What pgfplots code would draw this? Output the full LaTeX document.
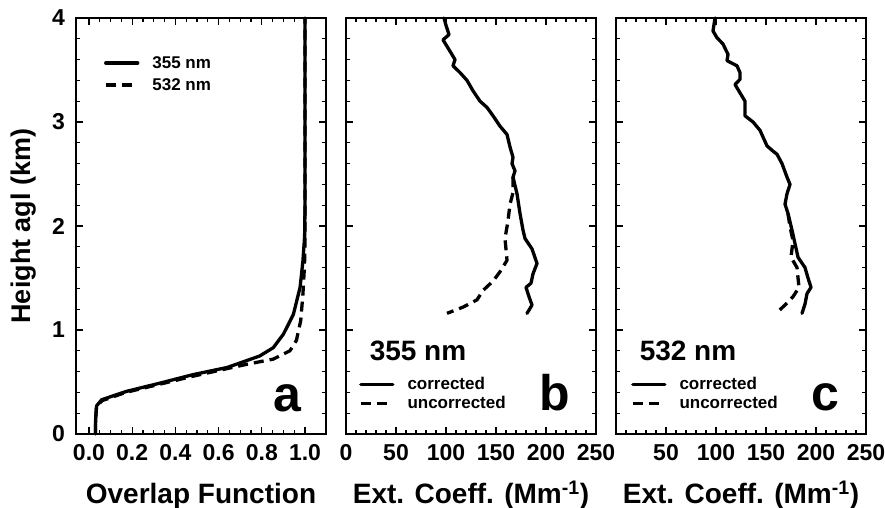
\documentclass[border=0pt]{standalone}
\usepackage{fontspec}
\setmainfont{Liberation Sans}
\usepackage{pgfplots}
\pgfplotsset{compat=1.18}
\begin{document}
\begin{tikzpicture}
\useasboundingbox (0pt,0pt) rectangle (885pt,508pt);
\pgfplotsset{
 panel/.style={
  scale only axis, width=250pt, height=416pt, anchor=south west,
  ymin=0, ymax=4, ytick={0,1,2,3,4}, minor y tick num=4,
  tick align=inside, major tick length=7pt, minor tick length=4pt,
  axis line style={line width=1.6pt},
  every tick/.style={line width=1.1pt, black},
  tick label style={font=\fontsize{23}{23}\selectfont\bfseries},
  /pgf/number format/assume math mode=true,
  xticklabel style={anchor=base, yshift=-26pt, inner sep=0pt},
  yticklabel style={anchor=east, xshift=-11pt, inner sep=0pt},
  label style={font=\fontsize{28}{28}\selectfont\bfseries},
  xlabel style={at={(axis description cs:0.5,-0.166)}, anchor=base},
  legend image code/.code={\draw[##1, line width=3.3pt] (0pt,0pt) -- (32pt,0pt);},
  legend cell align=left,
  clip=false,
 },
 curve/.style={black, line width=3.3pt, line join=round, line cap=round},
 dcurve/.style={black, line width=3.3pt, line join=round, dash pattern=on 10pt off 6pt},
 leg/.style={draw=none, fill=none, inner sep=0pt, column sep=12pt,
   font=\fontsize{17}{17}\selectfont\bfseries,
   nodes={inner sep=1pt, text height=12pt, text depth=1pt}},
}
% ---------- panel a
\begin{axis}[panel, at={(76pt,74pt)},
  xmin=-0.06, xmax=1.097,
  xtick={0,0.2,0.4,0.6,0.8,1}, minor x tick num=3,
  xticklabel style={/pgf/number format/.cd, fixed, fixed zerofill, precision=1},
  xlabel={Overlap Function},
  ylabel={Height agl (km)},
  ylabel style={at={(axis description cs:-0.21,0.5)}, anchor=center, font=\fontsize{27}{27}\selectfont\bfseries},
  legend style={leg, at={(axis cs:0.069,3.64)}, anchor=north west, row sep=7pt},
]
\addplot[curve] coordinates {(0.03,0) (0.031,0.15) (0.035,0.27) (0.059,0.33) (0.174,0.41) (0.33,0.49) (0.48,0.57) (0.64,0.64) (0.79,0.75) (0.853,0.83) (0.90,0.96) (0.946,1.15) (0.977,1.41) (0.99,1.66) (0.998,1.9) (1.0,2.2) (1.0,4.0)};
\addlegendentry{355 nm}
\addplot[dcurve] coordinates {(0.03,0) (0.031,0.15) (0.035,0.26) (0.06,0.32) (0.17,0.40) (0.33,0.48) (0.48,0.555) (0.62,0.62) (0.73,0.67) (0.853,0.72) (0.93,0.80) (0.96,0.90) (0.98,1.09) (0.99,1.34) (0.997,1.6) (1.0,1.8) (1.0,4.0)};
\addlegendentry{532 nm}
\node[anchor=base, font=\fontsize{50}{50}\selectfont\bfseries, inner sep=0pt] at (axis cs:0.917,0.22) {a};
\end{axis}
% ---------- panel b
\begin{axis}[panel, at={(346pt,74pt)},
  xmin=0, xmax=250,
  xtick={0,50,100,150,200,250}, minor x tick num=4,
  yticklabels={},
  xlabel={Ext. Coeff. (Mm\textsuperscript{-1})},
  legend style={leg, at={(axis cs:13,0.553)}, anchor=north west, row sep=4pt},
]
\addplot[curve] coordinates {(98,4.0) (100,3.93) (103,3.84) (97,3.79) (104,3.68) (109,3.60) (107,3.54) (114,3.475) (121,3.40) (127,3.30) (134,3.20) (141,3.14) (147,3.06) (154,2.96) (161,2.88) (164,2.76) (167,2.66) (166,2.60) (169,2.53) (167,2.47) (171,2.31) (174,2.12) (177,1.96) (179,1.88) (186,1.78) (191,1.64) (187,1.54) (185,1.45) (180,1.41) (183,1.32) (186,1.24) (181,1.16)};
\addlegendentry{corrected}
\addplot[dcurve] coordinates {(167,2.47) (167,2.32) (164,2.21) (162,2.05) (159,1.88) (161,1.67) (154,1.56) (147,1.47) (137,1.38) (131,1.29) (117,1.22) (101,1.16)};
\addlegendentry{uncorrected}
\node[anchor=base, font=\fontsize{28}{28}\selectfont\bfseries, inner sep=0pt] at (axis cs:72,0.71) {355 nm};
\node[anchor=base, font=\fontsize{50}{50}\selectfont\bfseries, inner sep=0pt] at (axis cs:209,0.23) {b};
\end{axis}
% ---------- panel c
\begin{axis}[panel, at={(616pt,74pt)},
  xmin=0, xmax=250,
  xtick={0,50,100,150,200,250}, xticklabels={,50,100,150,200,250}, minor x tick num=4,
  yticklabels={},
  xlabel={Ext. Coeff. (Mm\textsuperscript{-1})},
  legend style={leg, at={(axis cs:15,0.553)}, anchor=north west, row sep=4pt},
]
\addplot[curve] coordinates {(99,4.0) (97,3.875) (101,3.81) (107,3.75) (112,3.65) (111,3.59) (121,3.54) (124,3.475) (124,3.41) (119,3.36) (124,3.28) (129,3.20) (129,3.06) (137,3.00) (144,2.92) (151,2.77) (157,2.72) (161,2.69) (166,2.60) (171,2.47) (174,2.40) (171,2.31) (169,2.21) (172,2.12) (176,1.96) (179,1.83) (182,1.70) (189,1.60) (192,1.50) (195,1.41) (191,1.35) (189,1.25) (186,1.16)};
\addlegendentry{corrected}
\addplot[dcurve] coordinates {(172,2.12) (174,1.99) (177,1.86) (175,1.70) (181,1.60) (182,1.50) (183,1.41) (177,1.32) (169,1.24) (160,1.16)};
\addlegendentry{uncorrected}
\node[anchor=base, font=\fontsize{28}{28}\selectfont\bfseries, inner sep=0pt] at (axis cs:72,0.71) {532 nm};
\node[anchor=base, font=\fontsize{50}{50}\selectfont\bfseries, inner sep=0pt] at (axis cs:209,0.23) {c};
\end{axis}
\end{tikzpicture}
\end{document}
